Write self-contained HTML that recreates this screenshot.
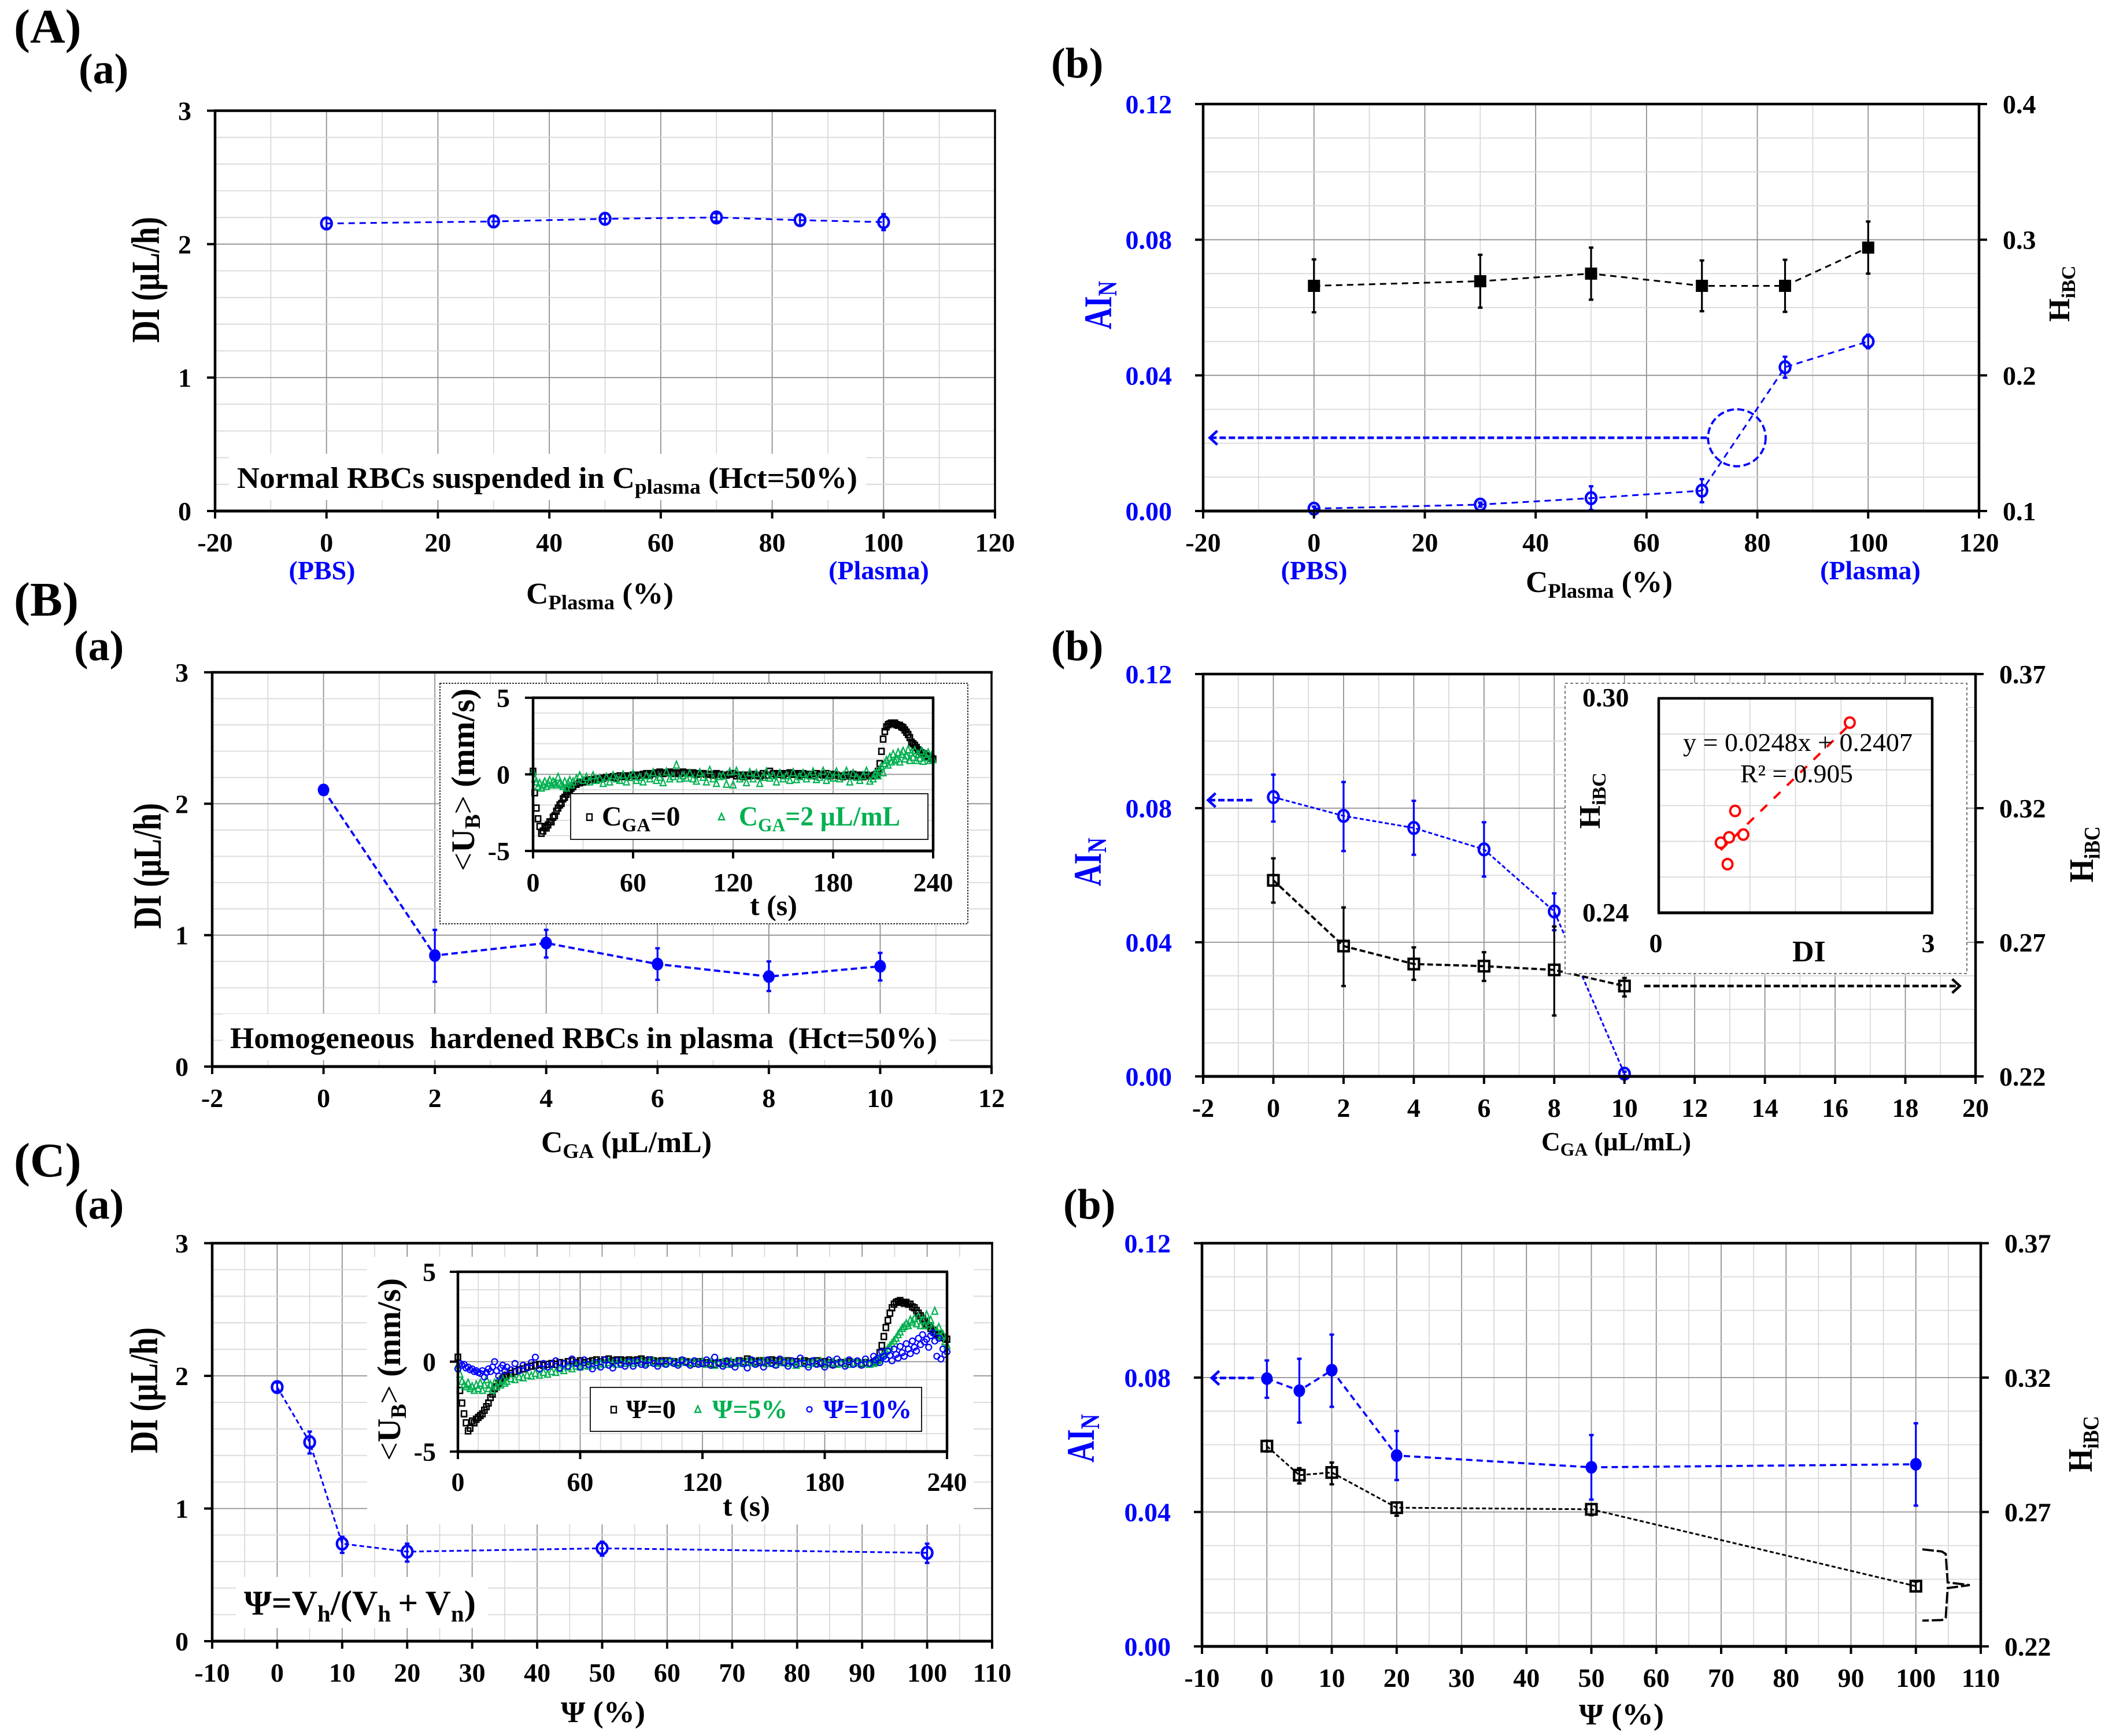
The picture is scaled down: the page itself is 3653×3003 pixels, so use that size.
<!DOCTYPE html>
<html lang="en">
<head>
<meta charset="utf-8">
<title>RBC aggregation and hardening charts</title>
<style>
html,body{margin:0;padding:0;background:#fff;}
svg{display:block;}
text{font-family:"Liberation Serif","Noto Serif CJK SC",serif;font-weight:bold;}
.n{font-weight:normal;}
.blue{fill:#0000ff;}
.green{fill:#00b050;}
</style>
</head>
<body>
<svg id="figure" xmlns="http://www.w3.org/2000/svg" width="3653" height="3003" viewBox="0 0 3653 3003">
<rect x="0" y="0" width="3653" height="3003" fill="#ffffff"/>

<!-- Panel labels -->
<text x="24" y="74" font-size="84">(A)</text>
<text x="136" y="144" font-size="74">(a)</text>
<text x="1818" y="134" font-size="74">(b)</text>
<text x="24" y="1065" font-size="84">(B)</text>
<text x="128" y="1142" font-size="74">(a)</text>
<text x="1818" y="1142" font-size="74">(b)</text>
<text x="24" y="2035" font-size="84">(C)</text>
<text x="128" y="2108" font-size="74">(a)</text>
<text x="1839" y="2108" font-size="74">(b)</text>

<!-- Panel A(a) -->
<g>
<g id="aa-grid"></g>
<rect x="396" y="785" width="1102" height="80" fill="#fff"/>
<g id="aa-series"></g>
<g id="aa-axes"></g>
<text x="410" y="844" font-size="52" textLength="1073" lengthAdjust="spacingAndGlyphs">Normal RBCs suspended in C<tspan font-size="36" dy="10">plasma</tspan><tspan dy="-10"> (Hct=50%)</tspan></text>
<text transform="translate(275,484) rotate(-90) scale(1,1.3)" text-anchor="middle" font-size="53">DI (µL/h)</text>
<text x="557" y="1002" text-anchor="middle" font-size="46" class="blue">(PBS)</text>
<text x="1520" y="1002" text-anchor="middle" font-size="46" class="blue">(Plasma)</text>
<text x="910" y="1044" font-size="52" textLength="255" lengthAdjust="spacingAndGlyphs">C<tspan font-size="36" dy="10">Plasma</tspan><tspan dy="-10"> (%)</tspan></text>
</g>

<!-- Panel A(b) -->
<g>
<g id="ab-grid"></g>
<g id="ab-series"></g>
<g id="ab-axes"></g>
<text transform="translate(1922,528) rotate(-90) scale(1,1.3)" text-anchor="middle" font-size="52" class="blue">AI<tspan font-size="36" dy="7">N</tspan></text>
<text transform="translate(3579,508) rotate(-90)" text-anchor="middle" font-size="52">H<tspan font-size="34" dy="10">iBC</tspan></text>
<text x="2273" y="1002" text-anchor="middle" font-size="46" class="blue">(PBS)</text>
<text x="3235" y="1002" text-anchor="middle" font-size="46" class="blue">(Plasma)</text>
<text x="2639" y="1024" font-size="52" textLength="254" lengthAdjust="spacingAndGlyphs">C<tspan font-size="36" dy="10">Plasma</tspan><tspan dy="-10"> (%)</tspan></text>
</g>

<!-- Panel B(a) -->
<g>
<g id="ba-grid"></g>
<rect x="385" y="1754" width="1257" height="80" fill="#fff"/>
<g id="ba-series"></g>
<g id="ba-axes"></g>
<text x="398" y="1813" font-size="52" textLength="940" lengthAdjust="spacingAndGlyphs">Homogeneous&#160; hardened RBCs in plasma</text>
<text x="1363" y="1813" font-size="52" textLength="258" lengthAdjust="spacingAndGlyphs">(Hct=50%)</text>
<text transform="translate(278,1498) rotate(-90) scale(1,1.3)" text-anchor="middle" font-size="53">DI (µL/h)</text>
<text x="936" y="1993" font-size="52" textLength="295" lengthAdjust="spacingAndGlyphs">C<tspan font-size="36" dy="10">GA</tspan><tspan dy="-10"> (µL/mL)</tspan></text>
<rect x="761" y="1182" width="913" height="416" fill="#fff" stroke="#333" stroke-width="2" stroke-dasharray="3 2"/>
<g id="bi-grid"></g>
<g id="bi-series"></g>
<g id="bi-axes"></g>
<text transform="translate(820,1349) rotate(-90)" text-anchor="middle" font-size="57"><tspan class="n">&lt;</tspan>U<tspan font-size="38" dy="10">B</tspan><tspan class="n" dy="-10">&gt;</tspan> (mm/s)</text>
<text x="1297" y="1583" font-size="50">t (s)</text>
<g>
<rect x="987" y="1373" width="618" height="79" fill="#fff" stroke="#222" stroke-width="2"/>
<rect x="1015" y="1408" width="9" height="11" fill="none" stroke="#000" stroke-width="2.4"/>
<text x="1041" y="1428" font-size="48">C<tspan font-size="33" dy="10">GA</tspan><tspan dy="-10">=0</tspan></text>
<polygon points="1248,1407 1253,1418 1243,1418" fill="none" stroke="#00b050" stroke-width="2.4"/>
<text x="1278" y="1428" font-size="48" class="green" textLength="279" lengthAdjust="spacingAndGlyphs">C<tspan font-size="33" dy="10">GA</tspan><tspan dy="-10">=2 µL/mL</tspan></text>
</g>
</g>

<!-- Panel B(b) -->
<g>
<g id="bb-grid"></g>
<g id="bb-series"></g>
<g id="bb-axes"></g>
<text transform="translate(1904,1491) rotate(-90) scale(1,1.3)" text-anchor="middle" font-size="52" class="blue">AI<tspan font-size="36" dy="7">N</tspan></text>
<text transform="translate(3620,1478) rotate(-90) scale(1,1.15)" text-anchor="middle" font-size="52">H<tspan font-size="34" dy="10">iBC</tspan></text>
<text x="2666" y="1990" font-size="46" textLength="259" lengthAdjust="spacingAndGlyphs">C<tspan font-size="32" dy="9">GA</tspan><tspan dy="-9"> (µL/mL)</tspan></text>
<rect x="2707" y="1182" width="695" height="502" fill="#fff" stroke="#777" stroke-width="2" stroke-dasharray="5 4"/>
<g id="bc-grid"></g>
<g id="bc-series"></g>
<g id="bc-axes"></g>
<text x="2737" y="1222" font-size="46">0.30</text>
<text x="2737" y="1594" font-size="46">0.24</text>
<text x="2864" y="1647" text-anchor="middle" font-size="46">0</text>
<text x="3335" y="1647" text-anchor="middle" font-size="46">3</text>
<text x="3100" y="1663" font-size="52">DI</text>
<text transform="translate(2767,1385) rotate(-90)" text-anchor="middle" font-size="52">H<tspan font-size="34" dy="10">iBC</tspan></text>
<text x="2911" y="1299" font-size="44" class="n" textLength="397" lengthAdjust="spacingAndGlyphs">y = 0.0248x + 0.2407</text>
<text x="3010" y="1353" font-size="44" class="n" textLength="195" lengthAdjust="spacingAndGlyphs">R² = 0.905</text>
</g>

<!-- Panel C(a) -->
<g>
<g id="ca-grid"></g>
<rect x="635" y="2174" width="1049" height="463" fill="#fff"/>
<rect x="408" y="2728" width="436" height="88" fill="#fff"/>
<g id="ca-series"></g>
<g id="ca-axes"></g>
<text x="422" y="2793" font-size="60" textLength="401" lengthAdjust="spacingAndGlyphs">Ψ=V<tspan font-size="40" dy="12">h</tspan><tspan dy="-12">/(V</tspan><tspan font-size="40" dy="12">h</tspan><tspan dy="-12">&#8201;+&#8201;V</tspan><tspan font-size="40" dy="12">n</tspan><tspan dy="-12">)</tspan></text>
<text transform="translate(272,2405) rotate(-90) scale(1,1.3)" text-anchor="middle" font-size="53">DI (µL/h)</text>
<text x="970" y="2979" font-size="52" textLength="146" lengthAdjust="spacingAndGlyphs">Ψ (%)</text>
<g id="ci-grid"></g>
<g id="ci-series"></g>
<g id="ci-axes"></g>
<text transform="translate(692,2369) rotate(-90)" text-anchor="middle" font-size="57"><tspan class="n">&lt;</tspan>U<tspan font-size="38" dy="10">B</tspan><tspan class="n" dy="-10">&gt;</tspan> (mm/s)</text>
<text x="1250" y="2622" font-size="50">t (s)</text>
<g>
<rect x="1021" y="2400" width="573" height="76" fill="#fff" stroke="#222" stroke-width="2"/>
<rect x="1057" y="2433" width="9" height="11" fill="none" stroke="#000" stroke-width="2.4"/>
<text x="1083" y="2453" font-size="46" textLength="86" lengthAdjust="spacingAndGlyphs">Ψ=0</text>
<polygon points="1207,2432 1212,2443 1202,2443" fill="none" stroke="#00b050" stroke-width="2.4"/>
<text x="1232" y="2453" font-size="46" class="green" textLength="130" lengthAdjust="spacingAndGlyphs">Ψ=5%</text>
<circle cx="1400" cy="2438" r="4.5" fill="none" stroke="#0000ff" stroke-width="2.2"/>
<text x="1424" y="2453" font-size="46" class="blue" textLength="153" lengthAdjust="spacingAndGlyphs">Ψ=10%</text>
</g>
</g>

<!-- Panel C(b) -->
<g>
<g id="cb-grid"></g>
<g id="cb-series"></g>
<g id="cb-axes"></g>
<text transform="translate(1892,2488) rotate(-90) scale(1,1.3)" text-anchor="middle" font-size="52" class="blue">AI<tspan font-size="36" dy="7">N</tspan></text>
<text transform="translate(3618,2498) rotate(-90) scale(1,1.15)" text-anchor="middle" font-size="52">H<tspan font-size="34" dy="10">iBC</tspan></text>
<text x="2731" y="2983" font-size="52" textLength="147" lengthAdjust="spacingAndGlyphs">Ψ (%)</text>
</g>
</svg>

<script>
/* ---------- Panel A(a) ---------- */
const aaX = [0, 30, 50, 70, 85, 100];
const aaDI = [2.155, 2.17, 2.19, 2.20, 2.18, 2.165];
const aaDIErr = [0.04, 0.04, 0.04, 0.03, 0.04, 0.06];
const aaXTicks = [-20, 0, 20, 40, 60, 80, 100, 120];
const aaYTicks = [0, 1, 2, 3];

/* ---------- Panel A(b) ---------- */
const abX = [0, 30, 50, 70, 85, 100];
const abAI = [0.0007, 0.0019, 0.0038, 0.006, 0.0424, 0.05];
const abAIErr = [0.0006, 0.0006, 0.0035, 0.0034, 0.0031, 0.002];
const abH = [0.266, 0.2694, 0.275, 0.266, 0.266, 0.2942];
const abHErr = [0.0195, 0.0195, 0.0192, 0.0187, 0.0192, 0.0192];
const abXTicks = [-20, 0, 20, 40, 60, 80, 100, 120];
const abLeftTicks = [0, 0.04, 0.08, 0.12];
const abLeftLabels = ['0.00', '0.04', '0.08', '0.12'];
const abRightTicks = [0.1, 0.2, 0.3, 0.4];
const abRightLabels = ['0.1', '0.2', '0.3', '0.4'];

/* ---------- Panel B(a) ---------- */
const baX = [0, 2, 4, 6, 8, 10];
const baDI = [2.105, 0.845, 0.94, 0.78, 0.685, 0.763];
const baDILow = [2.105, 0.645, 0.83, 0.66, 0.575, 0.655];
const baDIHigh = [2.105, 1.04, 1.04, 0.9, 0.8, 0.865];
const baXTicks = [-2, 0, 2, 4, 6, 8, 10, 12];
const baYTicks = [0, 1, 2, 3];

/* ---------- Panel B(b) ---------- */
const bbX = [0, 2, 4, 6, 8, 10];
const bbAI = [0.0833, 0.0777, 0.0741, 0.0677, 0.0492, 0.0008];
const bbAILow = [0.076, 0.0672, 0.0661, 0.0596, 0.0436, 0.0002];
const bbAIHigh = [0.09, 0.0878, 0.0822, 0.0758, 0.0546, 0.0014];
const bbH = [0.2931, 0.2686, 0.2619, 0.2611, 0.2597, 0.2537];
const bbHLow = [0.2848, 0.2537, 0.256, 0.2556, 0.2427, 0.2498];
const bbHHigh = [0.3013, 0.283, 0.2681, 0.2663, 0.2759, 0.2567];
const bbXTicks = [-2, 0, 2, 4, 6, 8, 10, 12, 14, 16, 18, 20];
const bbLeftTicks = [0, 0.04, 0.08, 0.12];
const bbLeftLabels = ['0.00', '0.04', '0.08', '0.12'];
const bbRightTicks = [0.22, 0.27, 0.32, 0.37];
const bbRightLabels = ['0.22', '0.27', '0.32', '0.37'];

/* Correlation inset of B(b) */
const corrDI = [2.096, 0.838, 0.928, 0.772, 0.68, 0.755];
const corrH = [0.2932, 0.2685, 0.2619, 0.2611, 0.2596, 0.2536];
const trendSlope = 0.0248;
const trendIntercept = 0.2407;
const trendRange = [0.68, 2.096];

/* ---------- Panel C(a) ---------- */
const caX = [0, 5, 10, 20, 50, 100];
const caDI = [1.915, 1.5, 0.735, 0.675, 0.70, 0.666];
const caDILow = [1.88, 1.415, 0.666, 0.6, 0.645, 0.59];
const caDIHigh = [1.95, 1.58, 0.787, 0.735, 0.75, 0.735];
const caXTicks = [-10, 0, 10, 20, 30, 40, 50, 60, 70, 80, 90, 100, 110];
const caYTicks = [0, 1, 2, 3];

/* ---------- Panel C(b) ---------- */
const cbX = [0, 5, 10, 20, 50, 100];
const cbAI = [0.0797, 0.0761, 0.0822, 0.0568, 0.0533, 0.0542];
const cbAILow = [0.074, 0.0666, 0.0713, 0.0495, 0.0437, 0.0419];
const cbAIHigh = [0.0851, 0.0856, 0.0928, 0.0641, 0.0629, 0.0664];
const cbH = [0.2945, 0.2837, 0.2847, 0.2716, 0.271, 0.2424];
const cbHLow = [0.2925, 0.2806, 0.2803, 0.2686, 0.2688, 0.2405];
const cbHHigh = [0.2965, 0.2863, 0.2884, 0.2735, 0.2729, 0.2441];
const cbXTicks = [-10, 0, 10, 20, 30, 40, 50, 60, 70, 80, 90, 100, 110];
const cbLeftTicks = [0, 0.04, 0.08, 0.12];
const cbLeftLabels = ['0.00', '0.04', '0.08', '0.12'];
const cbRightTicks = [0.22, 0.27, 0.32, 0.37];
const cbRightLabels = ['0.22', '0.27', '0.32', '0.37'];
const bracketX = [101, 104, 104.6, 104.9, 108.3, 104.9, 104.6, 104, 101];
const bracketY = [0.2561, 0.2553, 0.2544, 0.2438, 0.2428, 0.2417, 0.2306, 0.2298, 0.2296];

/* ---------- Time-series insets ---------- */
const ubTicksT = [0, 60, 120, 180, 240];
const ubTicksU = [-5, 0, 5];
const ubTime = [
0,1,2,3,4,5,6,7,8,9,10,11,12,13,14,15,16,17,18,19,20,21,22,23,24,
26,28,30,32,34,36,38,40,42,44,
46,48,50,52,54,56,58,60,62,64,
66,68,70,72,74,76,78,80,82,84,
86,88,90,92,94,96,98,100,102,104,
106,108,110,112,114,116,118,120,122,124,
126,128,130,132,134,136,138,140,142,144,
146,148,150,152,154,156,158,160,162,164,
166,168,170,172,174,176,178,180,182,184,
186,188,190,192,194,196,198,200,202,204,
205,206,207,208,209,210,211,212,213,214,215,216,217,218,219,220,221,222,
223,224,225,226,227,228,229,230,231,232,233,234,235,236,237,238,239,240];

const baUBControl = [
.2,-1.2,-2.2,-2.9,-3.4,-3.85,-3.7,-3.4,-3.5,-3.3,-3.1,-3.1,-2.8,-2.7,-2.4,-2.2,-2,-1.9,-1.6,-1.5,-1.3,-1.1,-1,-.9,-.8,
-.65,-.55,-.5,-.4,-.35,-.35,-.3,-.3,-.25,-.2,
-.2,-.15,-.25,-.1,-.15,-.1,-.2,-.05,-.1,-.05,
0,.05,-.05,.05,.1,.15,.05,.1,.15,.05,
.1,.05,.15,.1,.05,.1,0,.05,.05,0,
0,-.05,.05,0,-.1,-.05,0,.05,-.1,-.05,
-.15,-.05,-.1,0,-.05,-.1,.05,-.05,.2,.05,
0,.05,-.05,.05,.1,0,.05,-.05,.05,0,
0,-.1,.05,0,-.05,.05,-.1,0,-.05,-.1,
-.15,-.05,-.1,0,-.1,-.05,-.15,-.05,-.1,-.1,
-.05,0,.2,.7,1.5,2.3,2.8,3.1,3.25,3.3,3.35,3.3,3.35,3.25,3.2,3.2,3.1,3.05,
2.9,2.75,2.6,2.4,2.1,2,1.9,1.75,1.6,1.5,1.4,1.35,1.25,1.2,1.15,1.1,1.05,1];

const baUBGlut = [
.15,-.3,-.5,-.8,-.6,-.9,-.7,-.5,-.8,-.6,-.4,-.7,-.5,-.6,-.7,-.2,-.6,-.7,-.8,-.5,-.9,-.6,-.4,-.7,-.5,
-.3,-.1,-.4,-.2,-.5,-.1,-.4,-.3,-.6,-.2,
-.5,-.1,-.3,-.4,-.05,-.5,-.2,0,-.4,-.2,
-.5,-.1,-.3,.1,-.4,-.2,-.55,.15,-.3,-.15,
.6,-.3,-.1,-.25,.05,-.3,-.45,.1,-.2,-.5,
.25,-.3,-.6,-.15,-.1,-.65,.15,-.7,.2,-.3,
-.1,-.55,.1,-.3,.05,-.6,-.2,.15,-.25,-.1,
-.5,.05,-.3,-.1,-.4,.1,-.35,-.15,.05,-.3,
-.1,.15,-.35,-.2,.2,-.4,-.05,-.25,.15,-.3,
-.1,.2,-.5,.05,-.2,-.4,-.1,.2,-.45,-.3,
0,.1,-.1,.3,.5,.1,.7,.9,.6,1.1,.8,1.3,.9,1,1.4,.8,1.3,1.5,
1,1.2,1.6,.9,1.4,1.1,1.55,.9,1.3,1.05,1.5,.85,1.3,1.1,1.4,.9,1.2,.95];

const caUBPsi0 = [
.25,-1.6,-2.3,-2.9,-3.4,-3.85,-3.7,-3.3,-3.4,-3.2,-3.1,-3,-2.9,-2.7,-2.5,-2.3,-2,-1.8,-1.5,-1.4,-1.2,-1.05,-.95,-.85,-.75,
-.65,-.55,-.45,-.4,-.3,-.25,-.2,-.15,-.2,-.15,
-.1,-.15,-.05,-.1,0,.05,-.05,.05,-.05,0,
.05,.1,0,.1,.15,.05,.1,.1,.05,.1,
.05,.1,.15,.05,.1,.05,0,.05,.05,0,
0,-.05,.05,0,-.05,-.1,0,-.1,-.05,-.1,
-.15,-.05,-.1,0,-.05,-.05,.05,0,.15,.05,
0,.05,-.05,.05,.1,.05,.05,-.05,.05,0,
0,-.1,.05,0,-.05,.05,-.1,0,-.05,-.15,
-.1,-.05,-.1,0,-.1,-.05,-.1,-.05,-.1,-.05,
0,.1,.5,.9,1.4,1.9,2.3,2.7,3,3.2,3.3,3.35,3.4,3.3,3.25,3.3,3.2,3.2,
3.05,3,2.85,2.7,2.55,2.4,2.25,2.1,2,1.85,1.75,1.65,1.55,1.5,1.4,1.35,1.3,1.25];

const caUBPsi5 = [
-.2,-.7,-1.1,-1.3,-1.4,-1.2,-1.5,-1.4,-1.6,-1.3,-1.5,-1.2,-1.6,-1.3,-1,-1.5,-1.3,-1.6,-1.2,-1.4,-1.1,-1.3,-1,-1.2,-1.1,
-.95,-1,-.85,-.9,-.75,-.8,-.65,-.75,-.6,-.7,
-.55,-.6,-.4,-.5,-.3,-.4,-.25,-.3,-.2,-.25,
-.15,-.2,-.1,-.15,-.05,-.1,-.15,-.05,-.1,-.05,
-.1,-.05,0,-.1,-.05,0,-.1,-.05,-.1,0,
-.05,-.1,0,-.05,-.1,-.05,-.1,0,-.15,-.05,
-.2,-.1,-.05,-.15,0,-.1,-.05,-.1,0,-.05,
-.1,-.05,0,-.1,-.05,-.15,-.05,0,-.1,-.05,
-.2,-.1,-.05,-.15,-.05,-.1,0,-.15,-.1,-.05,
-.15,-.1,-.05,-.15,-.1,-.05,-.15,-.1,-.15,-.1,
-.05,.05,.15,.3,.4,.55,.7,.85,1,1.15,1.3,1.5,1.65,1.85,1.95,2.1,2,2.3,
2.2,2.4,2.1,2.5,2,2.3,2,2.6,2.1,2.3,1.9,2.8,1.7,1.9,1.4,1.5,1.1,.9];

const caUBPsi10 = [
-.4,-.1,-.2,-.15,-.35,-.3,-.45,-.4,-.55,-.5,-.6,-.65,-.5,-.85,-.6,-.4,-.55,-.3,0,-.5,-.8,-.35,-.2,-.5,-.3,
-.45,-.1,-.5,-.2,-.35,-.05,.25,-.4,-.1,-.3,
-.15,.05,-.35,-.1,-.25,.15,-.1,-.3,.1,-.15,
-.4,-.05,-.3,.1,-.2,-.35,.05,-.15,-.25,0,
-.25,.05,-.15,-.2,.1,-.1,-.25,0,-.15,.05,
-.1,-.2,.1,-.05,-.2,.05,-.15,-.1,.1,-.2,
.25,-.1,-.25,.05,-.15,-.3,.05,-.1,-.35,.1,
-.15,-.05,-.3,.1,-.1,-.2,.15,-.05,-.25,.05,
-.15,.2,-.1,-.3,.05,-.15,-.05,-.3,.1,-.2,
.15,-.05,-.25,.1,-.15,.05,-.2,.15,-.1,.3,
.1,.2,-.05,.55,.3,.15,.6,.35,.05,.7,.4,.2,.85,.5,.3,1,.7,.45,
1.15,.8,.6,1.3,.95,1.5,1.1,1.25,.8,1.45,1.6,1.15,.3,1.3,.15,.7,.4,.55];

/* ---------- Drawing helpers ---------- */
const NS = 'http://www.w3.org/2000/svg';
const BLUE = '#0000ff', BLACK = '#000000', GREEN = '#00b050', RED = '#ff0000';

function linear(d0, d1, r0, r1) {
  return function (v) { return r0 + (v - d0) * (r1 - r0) / (d1 - d0); };
}
function shape(tag, parent, attrs) {
  const el = document.createElementNS(NS, tag);
  for (const k in attrs) el.setAttribute(k, attrs[k]);
  parent.appendChild(el);
  return el;
}
function seg(parent, x1, y1, x2, y2, stroke, width) {
  return shape('line', parent, { x1: x1, y1: y1, x2: x2, y2: y2, stroke: stroke, 'stroke-width': width });
}
function txt(parent, x, y, str, anchor, size, fill) {
  const el = shape('text', parent, { x: x, y: y, 'text-anchor': anchor, 'font-size': size, fill: fill });
  el.textContent = str;
  return el;
}

/* Builds gridlines, axes, ticks and labels; returns the axis functions. */
function buildChart(prefix, cfg) {
  const grid = document.getElementById(prefix + '-grid');
  const axes = document.getElementById(prefix + '-axes');
  const L = cfg.left, R = cfg.right, T = cfg.top, B = cfg.bottom;
  const sx = linear(cfg.xMin, cfg.xMax, L, R);
  const sy = linear(cfg.yMin, cfg.yMax, B, T);
  const syR = cfg.rMin !== undefined ? linear(cfg.rMin, cfg.rMax, B, T) : null;
  const size = cfg.fontSize || 46;

  const nx = Math.round((cfg.xMax - cfg.xMin) / cfg.xMinor);
  for (let i = 1; i < nx; i++) {
    const v = cfg.xMin + i * cfg.xMinor;
    const major = cfg.xMajor.some(function (m) { return Math.abs(m - v) < 1e-6; });
    const g = seg(grid, sx(v), T, sx(v), B, major ? '#909090' : '#d9d9d9', 1.8);
    
    
  }
  const ny = Math.round((cfg.yMax - cfg.yMin) / cfg.yMinor);
  for (let i = 1; i < ny; i++) {
    const v = cfg.yMin + i * cfg.yMinor;
    const major = cfg.yMajor.some(function (m) { return Math.abs(m - v) < 1e-6; });
    const g = seg(grid, L, sy(v), R, sy(v), major ? '#909090' : '#d9d9d9', 1.8);
    
    
  }

  const ax = cfg.axisWidth || 4.5;
  const leftAxis = seg(axes, L, T, L, B, BLACK, ax);
  
  
  const rightAxis = seg(axes, R, T, R, B, BLACK, cfg.rMin !== undefined ? ax : (cfg.rightWidth || 3.5));
  
  
  const topAxis = seg(axes, L - 2, T, R + 2, T, BLACK, 4.5);
  
  
  const bottomAxis = seg(axes, L - 2, B, R + 2, B, BLACK, 5);
  
  

  (cfg.xTicks || []).forEach(function (v) {
    const t = seg(axes, sx(v), B, sx(v), B + 13, BLACK, 4);
    
    
    const lab = txt(axes, sx(v), B + (cfg.xLabelGap || 70), String(v), 'middle', size, BLACK);
    
    
  });
  (cfg.yTicks || []).forEach(function (v, i) {
    const t = seg(axes, L - 14, sy(v), L, sy(v), BLACK, 4);
    
    
    const str = cfg.yLabels ? cfg.yLabels[i] : String(v);
    const lab = txt(axes, L - (cfg.yLabelGap || 41), sy(v) + 16, str, 'end', size, cfg.yColor || BLACK);
    
    
  });
  (cfg.rTicks || []).forEach(function (v, i) {
    const t = seg(axes, R, syR(v), R + 14, syR(v), BLACK, 4);
    
    
    const lab = txt(axes, R + 41, syR(v) + 16, cfg.rLabels[i], 'start', size, BLACK);
    
    
  });
  return { x: sx, y: sy, yR: syR };
}

/* Dashed connecting line, error bars and markers for one series. */
function drawSeries(parent, xs, ys, lows, highs, sx, sy, color, marker, name, dash, lineWidth) {
  const pts = xs.map(function (x, i) { return sx(x) + ',' + sy(ys[i]); }).join(' ');
  const ln = shape('polyline', parent, { points: pts, fill: 'none', stroke: color, 'stroke-width': lineWidth || 3, 'stroke-dasharray': dash || '11 8' });
  
  
  xs.forEach(function (x, i) {
    const px = sx(x), py = sy(ys[i]);
    if (lows && Math.abs(highs[i] - lows[i]) > 1e-9) {
      const e = seg(parent, px, sy(lows[i]), px, sy(highs[i]), color, 3.2);
      
      
      const c1 = seg(parent, px - 4, sy(lows[i]), px + 4, sy(lows[i]), color, 4);
      
      
      const c2 = seg(parent, px - 4, sy(highs[i]), px + 4, sy(highs[i]), color, 4);
      
      
    }
    let m;
    if (marker === 'open-circle') {
      m = shape('ellipse', parent, { cx: px, cy: py, rx: 9, ry: 10, fill: 'none', stroke: color, 'stroke-width': 4.4 });
    } else if (marker === 'filled-circle') {
      m = shape('ellipse', parent, { cx: px, cy: py, rx: 10, ry: 11, fill: color, stroke: 'none' });
    } else if (marker === 'filled-square') {
      m = shape('rect', parent, { x: px - 10.5, y: py - 10.5, width: 21, height: 21, fill: color });
    } else if (marker === 'open-square') {
      m = shape('rect', parent, { x: px - 9, y: py - 9, width: 18, height: 18, fill: 'none', stroke: color, 'stroke-width': 4.2 });
    } else {
      m = shape('ellipse', parent, { cx: px, cy: py, rx: 9, ry: 9, fill: 'none', stroke: color, 'stroke-width': 4.2 });
    }
    
    
  });
}

/* Dense scatter of small hollow markers. */
function drawScatter(parent, ts, vs, sx, sy, color, kind, name) {
  ts.forEach(function (t, i) {
    const px = sx(t), py = sy(vs[i]);
    let m;
    if (kind === 'square') {
      m = shape('rect', parent, { x: px - 4.5, y: py - 5, width: 9, height: 10, fill: 'none', stroke: color, 'stroke-width': 2.6 });
    } else if (kind === 'triangle') {
      m = shape('polygon', parent, { points: px + ',' + (py - 7) + ' ' + (px + 5) + ',' + (py + 5) + ' ' + (px - 5) + ',' + (py + 5), fill: 'none', stroke: color, 'stroke-width': 2.2 });
    } else {
      m = shape('circle', parent, { cx: px, cy: py, r: 5, fill: 'none', stroke: color, 'stroke-width': 2.2 });
    }
    
    
  });
}

/* Horizontal dashed annotation arrow (dir -1 = left, +1 = right). */
function drawArrow(parent, x1, x2, y, color, name) {
  const dir = x2 > x1 ? 1 : -1;
  const shaft = seg(parent, x1, y, x2, y, color, 4.5);
  shaft.setAttribute('stroke-dasharray', '11 5');
  
  
  const head = shape('polyline', parent, { points: (x2 - dir * 13) + ',' + (y - 12) + ' ' + x2 + ',' + y + ' ' + (x2 - dir * 13) + ',' + (y + 12), fill: 'none', stroke: color, 'stroke-width': 4.5 });
  
  
}

/* ---------- A(a) ---------- */
const aaAxes = buildChart('aa', { left: 372, right: 1721, top: 191.5, bottom: 884, xMin: -20, xMax: 120, xMinor: 10, xMajor: aaXTicks, yMin: 0, yMax: 3, yMinor: 0.2, yMajor: aaYTicks, xTicks: aaXTicks, yTicks: aaYTicks });
drawSeries(document.getElementById('aa-series'), aaX, aaDI,
  aaDI.map(function (v, i) { return v - aaDIErr[i]; }),
  aaDI.map(function (v, i) { return v + aaDIErr[i]; }),
  aaAxes.x, aaAxes.y, BLUE, 'open-circle', 'aa-di');

/* ---------- A(b) ---------- */
const abAxes = buildChart('ab', { left: 2081, right: 3423, top: 180, bottom: 884, xMin: -20, xMax: 120, xMinor: 10, xMajor: abXTicks, yMin: 0, yMax: 0.12, yMinor: 0.01, yMajor: abLeftTicks, xTicks: abXTicks, yTicks: abLeftTicks, yLabels: abLeftLabels, yColor: BLUE, yLabelGap: 54, rMin: 0.1, rMax: 0.4, rTicks: abRightTicks, rLabels: abRightLabels });
const abSeries = document.getElementById('ab-series');
drawSeries(abSeries, abX, abH,
  abH.map(function (v, i) { return v - abHErr[i]; }),
  abH.map(function (v, i) { return v + abHErr[i]; }),
  abAxes.x, abAxes.yR, BLACK, 'filled-square', 'ab-hibc');
drawSeries(abSeries, abX, abAI,
  abAI.map(function (v, i) { return v - abAIErr[i]; }),
  abAI.map(function (v, i) { return v + abAIErr[i]; }),
  abAxes.x, abAxes.y, BLUE, 'open-circle', 'ab-ain');
drawArrow(abSeries, abAxes.x(70.9), abAxes.x(-18.8), abAxes.y(0.0216), BLUE, 'ab-axis-arrow');
const abCircle = shape('ellipse', abSeries, { cx: abAxes.x(76.3), cy: abAxes.y(0.0216), rx: abAxes.x(81.5) - abAxes.x(76.3), ry: abAxes.y(0.0132) - abAxes.y(0.0216), fill: 'none', stroke: BLUE, 'stroke-width': 3.8, 'stroke-dasharray': '12 6' });



/* ---------- B(a) ---------- */
const baAxes = buildChart('ba', { left: 367, right: 1715, top: 1163, bottom: 1845, xMin: -2, xMax: 12, xMinor: 1, xMajor: baXTicks, yMin: 0, yMax: 3, yMinor: 0.2, yMajor: baYTicks, xTicks: baXTicks, yTicks: baYTicks });
drawSeries(document.getElementById('ba-series'), baX, baDI, baDILow, baDIHigh, baAxes.x, baAxes.y, BLUE, 'filled-circle', 'ba-di', '11 6', 3.8);

const biAxes = buildChart('bi', { left: 922, right: 1614, top: 1207, bottom: 1472, xMin: 0, xMax: 240, xMinor: 30, xMajor: ubTicksT, yMin: -5, yMax: 5, yMinor: 1, yMajor: [0], xTicks: ubTicksT, yTicks: ubTicksU, fontSize: 46, yLabelGap: 40, rightWidth: 4.5 });
const biSeries = document.getElementById('bi-series');
drawScatter(biSeries, ubTime, baUBControl, biAxes.x, biAxes.y, BLACK, 'square', 'ba-inset-control');
drawScatter(biSeries, ubTime, baUBGlut, biAxes.x, biAxes.y, GREEN, 'triangle', 'ba-inset-ga');

/* ---------- B(b) ---------- */
const bbAxes = buildChart('bb', { left: 2081, right: 3417, top: 1166, bottom: 1862, xMin: -2, xMax: 20, xMinor: 1, xMajor: bbXTicks, yMin: 0, yMax: 0.12, yMinor: 0.01, yMajor: bbLeftTicks, xTicks: bbXTicks, yTicks: bbLeftTicks, yLabels: bbLeftLabels, yColor: BLUE, yLabelGap: 54, rMin: 0.22, rMax: 0.37, rTicks: bbRightTicks, rLabels: bbRightLabels });
const bbSeries = document.getElementById('bb-series');
drawSeries(bbSeries, bbX, bbAI, bbAILow, bbAIHigh, bbAxes.x, bbAxes.y, BLUE, 'open-circle', 'bb-ain', '7 4');
drawSeries(bbSeries, bbX, bbH, bbHLow, bbHHigh, bbAxes.x, bbAxes.yR, BLACK, 'open-square', 'bb-hibc', '10 5', 3.8);
drawArrow(bbSeries, bbAxes.x(-0.6), bbAxes.x(-1.86), bbAxes.y(0.0824), BLUE, 'bb-ain-axis-arrow');
drawArrow(bbSeries, bbAxes.x(10.56), bbAxes.x(19.55), bbAxes.yR(0.2537), BLACK, 'bb-hibc-axis-arrow');

const bcAxes = buildChart('bc', { left: 2869, right: 3342, top: 1208, bottom: 1579, xMin: 0, xMax: 3, xMinor: 0.5, xMajor: [], yMin: 0.24, yMax: 0.30, yMinor: 0.01, yMajor: [], rightWidth: 4.5 });
const bcSeries = document.getElementById('bc-series');
const trendX = trendRange;
const trendY = trendX.map(function (x) { return trendSlope * x + trendIntercept; });
const trend = seg(bcSeries, bcAxes.x(trendX[0]), bcAxes.y(trendY[0]), bcAxes.x(trendX[1]), bcAxes.y(trendY[1]), RED, 4);
trend.setAttribute('stroke-dasharray', '16 16');


corrDI.forEach(function (x, i) {
  const m = shape('ellipse', bcSeries, { cx: bcAxes.x(x), cy: bcAxes.y(corrH[i]), rx: 8.5, ry: 9, fill: 'none', stroke: RED, 'stroke-width': 4 });
  
  
});

/* ---------- C(a) ---------- */
const caAxes = buildChart('ca', { left: 367, right: 1716, top: 2150.5, bottom: 2839, xMin: -10, xMax: 110, xMinor: 5, xMajor: caXTicks, yMin: 0, yMax: 3, yMinor: 0.2, yMajor: caYTicks, xTicks: caXTicks, yTicks: caYTicks });
drawSeries(document.getElementById('ca-series'), caX, caDI, caDILow, caDIHigh, caAxes.x, caAxes.y, BLUE, 'open-circle', 'ca-di', '8 5');

const ciAxes = buildChart('ci', { left: 792, right: 1638, top: 2200, bottom: 2511, xMin: 0, xMax: 240, xMinor: 10, xMajor: ubTicksT, yMin: -5, yMax: 5, yMinor: 1, yMajor: [0], xTicks: ubTicksT, yTicks: ubTicksU, fontSize: 46, yLabelGap: 38, xLabelGap: 68, rightWidth: 4.5 });
const ciSeries = document.getElementById('ci-series');
drawScatter(ciSeries, ubTime, caUBPsi0, ciAxes.x, ciAxes.y, BLACK, 'square', 'ca-inset-psi-0');
drawScatter(ciSeries, ubTime, caUBPsi5, ciAxes.x, ciAxes.y, GREEN, 'triangle', 'ca-inset-psi-5');
drawScatter(ciSeries, ubTime, caUBPsi10, ciAxes.x, ciAxes.y, BLUE, 'circle', 'ca-inset-psi-10');

/* ---------- C(b) ---------- */
const cbAxes = buildChart('cb', { left: 2079, right: 3426, top: 2150.5, bottom: 2848, xMin: -10, xMax: 110, xMinor: 5, xMajor: cbXTicks, yMin: 0, yMax: 0.12, yMinor: 0.01, yMajor: cbLeftTicks, xTicks: cbXTicks, yTicks: cbLeftTicks, yLabels: cbLeftLabels, yColor: BLUE, yLabelGap: 54, rMin: 0.22, rMax: 0.37, rTicks: cbRightTicks, rLabels: cbRightLabels });
const cbSeries = document.getElementById('cb-series');
drawSeries(cbSeries, cbX, cbAI, cbAILow, cbAIHigh, cbAxes.x, cbAxes.y, BLUE, 'filled-circle', 'cb-ain', '11 7', 3.6);
drawSeries(cbSeries, cbX, cbH, cbHLow, cbHHigh, cbAxes.x, cbAxes.yR, BLACK, 'open-square', 'cb-hibc', '7 4');
drawArrow(cbSeries, cbAxes.x(-2), cbAxes.x(-8.5), cbAxes.y(0.0799), BLUE, 'cb-ain-axis-arrow');
const bracketPts = bracketX.map(function (x, i) { return cbAxes.x(x) + ',' + cbAxes.yR(bracketY[i]); }).join(' ');
const bracket = shape('polyline', cbSeries, { points: bracketPts, fill: 'none', stroke: BLACK, 'stroke-width': 3.8, 'stroke-dasharray': '20 5' });


</script>
</body>
</html>
